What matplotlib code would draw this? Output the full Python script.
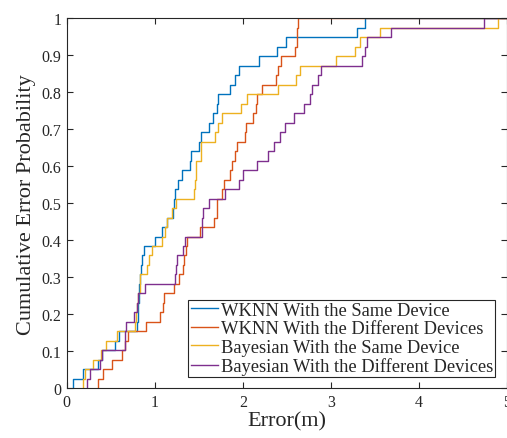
import numpy as np
import matplotlib.pyplot as plt
plt.rcParams["font.family"] = ["Liberation Serif", "DejaVu Serif"]

# sorted localisation errors (m), 39 test points per method
wknn_same = [0.072, 0.185, 0.36, 0.40, 0.553, 0.59, 0.80, 0.807, 0.81, 0.818,
             0.825, 0.829, 0.84, 0.85, 0.882, 1.0, 1.083, 1.14, 1.21, 1.22,
             1.23, 1.268, 1.307, 1.40, 1.41, 1.50, 1.52, 1.61, 1.66, 1.70,
             1.716, 1.85, 1.91, 1.95, 2.18, 2.39, 2.49, 3.29, 3.38]
wknn_diff = [0.352, 0.413, 0.515, 0.628, 0.666, 0.697, 0.905, 1.064, 1.09, 1.10,
             1.22, 1.27, 1.318, 1.33, 1.355, 1.365, 1.515, 1.666, 1.70, 1.71,
             1.76, 1.78, 1.856, 1.875, 1.91, 1.93, 2.02, 2.03, 2.11, 2.15,
             2.16, 2.22, 2.375, 2.40, 2.43, 2.59, 2.61, 2.615, 2.62]
bayes_same = [0.185, 0.205, 0.30, 0.39, 0.45, 0.57, 0.78, 0.785, 0.80, 0.81,
              0.83, 0.835, 0.912, 0.93, 0.966, 1.08, 1.12, 1.14, 1.20, 1.24,
              1.447, 1.46, 1.466, 1.47, 1.52, 1.526, 1.685, 1.72, 1.76, 1.98,
              2.045, 2.40, 2.60, 2.65, 3.056, 3.276, 3.325, 3.55, 4.89]
bayes_diff = [0.23, 0.26, 0.375, 0.40, 0.66, 0.665, 0.67, 0.765, 0.80, 0.807,
              0.893, 1.234, 1.24, 1.25, 1.325, 1.344, 1.53, 1.54, 1.545, 1.61,
              1.80, 1.95, 2.0, 2.16, 2.28, 2.35, 2.415, 2.48, 2.575, 2.69,
              2.76, 2.78, 2.85, 2.89, 3.35, 3.38, 3.41, 3.68, 4.73]

labels = ["WKNN With the Same Device", "WKNN With the Different Devices",
          "Bayesian With the Same Device", "Bayesian With the Different Devices"]
colors = ["#0072BD", "#D95319", "#EDB120", "#7E2F8E"]
xticks = [0, 1, 2, 3, 4, 5]
yticks = [0, 0.1, 0.2, 0.3, 0.4, 0.5, 0.6, 0.7, 0.8, 0.9, 1]
yticklabels = ["0", "0.1", "0.2", "0.3", "0.4", "0.5", "0.6", "0.7", "0.8", "0.9", "1"]

fig = plt.figure(figsize=(5.07, 4.39), dpi=100)
ax = fig.add_axes([0.1316, 0.1132, 0.869, 0.8428])

for data, c, lab in zip([wknn_same, wknn_diff, bayes_same, bayes_diff], colors, labels):
    e = np.sort(np.array(data))
    p = np.arange(1, len(e) + 1) / len(e)
    xs = np.concatenate([[e[0]], e, [5.5]])
    ys = np.concatenate([[0], p, [1]])
    ax.plot(xs, ys, drawstyle="steps-post", color=c, linewidth=1.0, label=lab)

ax.set_xlim(0, 5)
ax.set_ylim(0, 1)
ax.set_xticks(xticks)
ax.set_yticks(yticks)
ax.set_yticklabels(yticklabels)
ax.tick_params(direction="in", length=4, width=0.8, top=True, right=True,
               labelsize=11.5, colors="#262626", pad=4)
for s in ax.spines.values():
    s.set_color("#262626")
    s.set_linewidth(0.8)

ax.set_xlabel("Error(m)", size=16, color="#262626", labelpad=1)
ax.set_ylabel("Cumulative Error Probability", size=16, color="#262626", labelpad=4)

leg = ax.legend(loc="lower right", bbox_to_anchor=(0.972, 0.0297), borderaxespad=0,
                fontsize=13.3, frameon=True, fancybox=False, framealpha=1,
                edgecolor="#262626", borderpad=0.12, labelspacing=0.08,
                handlelength=1.5, handletextpad=0.12)
leg.get_frame().set_linewidth(0.8)
for t in leg.get_texts():
    t.set_color("#262626")

plt.savefig("out.png", dpi=100)
